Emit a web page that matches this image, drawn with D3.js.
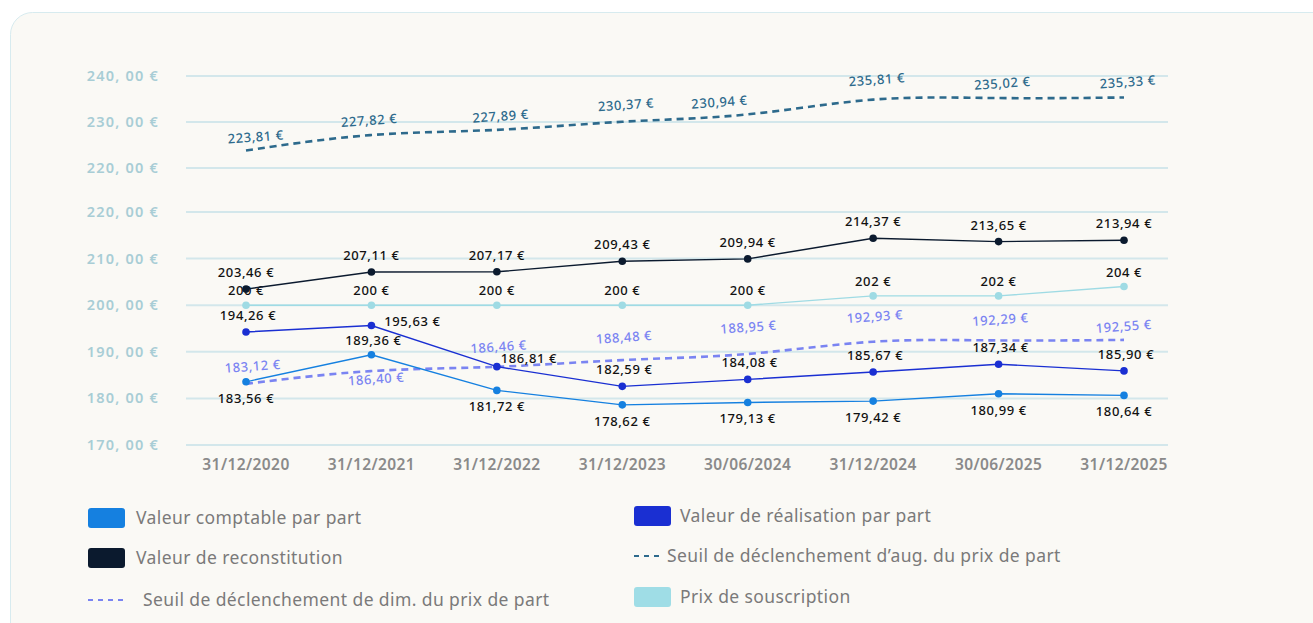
<!DOCTYPE html>
<html>
<head>
<meta charset="utf-8">
<script src="https://cdn.jsdelivr.net/npm/d3@7"></script>
<style>
  body { margin: 0; background: #ffffff; font-family: "Noto Sans", sans-serif; }
</style>
</head>
<body>
<script>
const dates = ["31/12/2020", "31/12/2021", "31/12/2022", "31/12/2023", "30/06/2024", "31/12/2024", "30/06/2025", "31/12/2025"]

const comptable = [183.56, 189.36, 181.72, 178.62, 179.13, 179.42, 180.99, 180.64]
const realisation = [194.26, 195.63, 186.81, 182.59, 184.08, 185.67, 187.34, 185.90]
const reconstitution = [203.46, 207.11, 207.17, 209.43, 209.94, 214.37, 213.65, 213.94]
const souscription = [200, 200, 200, 200, 200, 202, 202, 204]
const seuilDim = [183.12, 186.40, 186.46, 188.48, 188.95, 192.93, 192.29, 192.55]
const seuilAug = [223.81, 227.82, 227.89, 230.37, 230.94, 235.81, 235.02, 235.33]

// broken axis: lower part 170-220, upper part 220-240
const ticksLow = [170, 180, 190, 200, 210, 220]
const ticksHigh = [220, 230, 240]

const svg = d3.select("body")
              .append("svg")
              .attr("width", 1313)
              .attr("height", 623)

svg.append("rect")
   .attr("x", 10.5)
   .attr("y", 12.5)
   .attr("width", 1330)
   .attr("height", 640)
   .attr("rx", 22)
   .attr("fill", "#faf9f5")
   .attr("stroke", "#d7ebef")

const x = d3.scalePoint()
            .domain(dates)
            .range([246, 1124])

const yLow = d3.scaleLinear().domain([170, 220]).range([445, 212])
const yHigh = d3.scaleLinear().domain([220, 240]).range([168, 76])

const fmt = v => (Number.isInteger(v) ? v : d3.format(".2f")(v).replace(".", ",")) + " €"
const tickFmt = v => v + ", 00 €"

// grid + y labels
const grid = svg.append("g")
const gridData = ticksLow.map(t => ({ t, y: yLow(t) })).concat(ticksHigh.map(t => ({ t, y: yHigh(t) })))

grid.selectAll("line")
    .data(gridData)
    .enter()
    .append("line")
    .attr("x1", 186)
    .attr("x2", 1168)
    .attr("y1", d => d.y)
    .attr("y2", d => d.y)
    .attr("stroke", "#d3e7eb")
    .attr("stroke-width", 2)

grid.selectAll("text")
    .data(gridData)
    .enter()
    .append("text")
    .attr("x", 159)
    .attr("y", d => d.y + 5)
    .attr("text-anchor", "end")
    .attr("fill", "#a8cdd5")
    .style("font-size", "14.5px")
    .style("font-weight", "600")
    .style("letter-spacing", "1.2px")
    .text(d => tickFmt(d.t))

// x labels
svg.append("g")
   .selectAll("text")
   .data(dates)
   .enter()
   .append("text")
   .attr("x", d => x(d))
   .attr("y", 470)
   .attr("text-anchor", "middle")
   .attr("fill", "#8a8a8a")
   .style("font-size", "15.5px")
   .style("font-weight", "600")
   .style("letter-spacing", "0.4px")
   .text(d => d)

const series = [
  { name: "seuilAug", values: seuilAug, y: yHigh, color: "#2d6a8c", dash: "7,5", curve: d3.curveBasis, labelColor: "#2d6a8c", tilt: true,
    place: i => i === 0 ? { dx: 10, dy: -9 } : i === 1 ? { dx: -2, dy: -7 } : i === 4 ? { dx: -28, dy: -11 } : { dx: 4, dy: -11 } },
  { name: "seuilDim", values: seuilDim, y: yLow, color: "#7a84f2", dash: "7,5", curve: d3.curveBasis, labelColor: "#7a84f2", tilt: true,
    place: i => i === 0 ? { dx: 7, dy: -13 } : i === 1 ? { dx: 5, dy: 15 } : i === 4 ? { dx: 1, dy: -25 } : i === 7 ? { dx: 0, dy: -9 } : { dx: 2, dy: -17 } },
  { name: "souscription", values: souscription, y: yLow, color: "#9fdbe4", dots: true, labelColor: "#111111",
    place: i => ({ dx: 0, dy: -10 }) },
  { name: "reconstitution", values: reconstitution, y: yLow, color: "#0b1a2e", dots: true, labelColor: "#111111",
    place: i => ({ dx: 0, dy: -12 }) },
  { name: "realisation", values: realisation, y: yLow, color: "#1a2fd2", dots: true, labelColor: "#111111",
    place: i => i === 1 ? { dx: 41, dy: 0 } : i === 2 ? { dx: 32, dy: -4 } : { dx: 2, dy: -12 } },
  { name: "comptable", values: comptable, y: yLow, color: "#1580e0", dots: true, labelColor: "#111111",
    place: i => i === 1 ? { dx: 2, dy: -10 } : { dx: 0, dy: 21 } }
]

series.forEach(s => {
  const g = svg.append("g").attr("class", s.name)
  const line = d3.line()
                 .x((d, i) => x(dates[i]))
                 .y(d => s.y(d))
                 .curve(s.curve || d3.curveLinear)

  g.append("path")
   .datum(s.values)
   .attr("d", line)
   .attr("fill", "none")
   .attr("stroke", s.color)
   .attr("stroke-width", s.dash ? 2.6 : 1.4)
   .attr("stroke-dasharray", s.dash || null)

  if (s.dots) {
    g.selectAll("circle")
     .data(s.values)
     .enter()
     .append("circle")
     .attr("cx", (d, i) => x(dates[i]))
     .attr("cy", d => s.y(d))
     .attr("r", 3.8)
     .attr("fill", s.color)
  }

  g.selectAll("text")
   .data(s.values)
   .enter()
   .append("text")
   .attr("transform", (d, i) => {
     const p = s.place(i)
     const tx = x(dates[i]) + p.dx
     const ty = s.y(d) + p.dy
     return "translate(" + tx + "," + ty + ")" + (s.tilt ? " rotate(-4)" : "")
   })
   .attr("text-anchor", "middle")
   .attr("fill", s.labelColor)
   .style("font-size", "13px")
   .style("font-weight", "500")
   .style("letter-spacing", "0.6px")
   .text(d => fmt(d))
})

// legend
const legendItems = [
  { label: "Valeur comptable par part", color: "#1580e0", type: "box", x: 88, y: 518, tx: 136 },
  { label: "Valeur de réalisation par part", color: "#1a2fd2", type: "box", x: 634, y: 516, tx: 680 },
  { label: "Valeur de reconstitution", color: "#0b1a2e", type: "box", x: 88, y: 558, tx: 136 },
  { label: "Seuil de déclenchement d’aug. du prix de part", color: "#2d6a8c", type: "dash", x: 634, y: 556, tx: 667 },
  { label: "Seuil de déclenchement de dim. du prix de part", color: "#7a84f2", type: "dash4", x: 88, y: 600, tx: 143 },
  { label: "Prix de souscription", color: "#9fdde6", type: "box", x: 634, y: 597, tx: 680 }
]

const legend = svg.append("g").attr("id", "legend")

legendItems.forEach(d => {
  if (d.type === "box") {
    legend.append("rect")
          .attr("x", d.x)
          .attr("y", d.y - 10)
          .attr("width", 37)
          .attr("height", 20)
          .attr("rx", 3)
          .attr("fill", d.color)
  } else {
    legend.append("line")
          .attr("x1", d.x)
          .attr("x2", d.type === "dash4" ? d.x + 36 : d.x + 26)
          .attr("y1", d.y)
          .attr("y2", d.y)
          .attr("stroke", d.color)
          .attr("stroke-width", 2)
          .attr("stroke-dasharray", "5,5")
  }
  legend.append("text")
        .attr("x", d.tx)
        .attr("y", d.y + 6)
        .attr("fill", "#7a7a7a")
        .style("font-size", "17.5px")
        .style("letter-spacing", "0.4px")
        .text(d.label)
})
</script>
</body>
</html>
